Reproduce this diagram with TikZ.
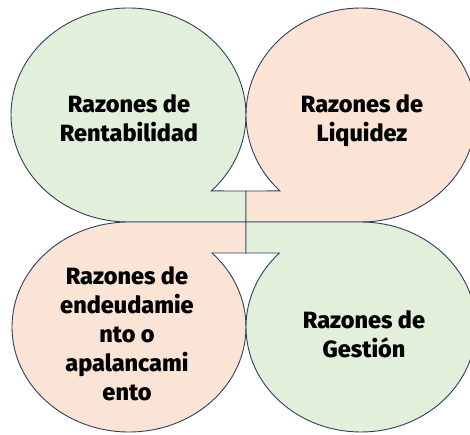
\documentclass[tikz,border=0pt]{standalone}
\usepackage{fontspec}
\setmainfont{Fira Sans}
\newfontfamily\heavyfont{Fira Sans ExtraBold}
\definecolor{qgreen}{HTML}{E2EFDA}
\definecolor{qorange}{HTML}{FBE4D5}
\definecolor{qline}{HTML}{2F3F60}
\begin{document}
\begin{tikzpicture}[x=1pt,y=1pt,
  quad/.style={draw=qline,line width=0.9pt,line join=miter},
  lbl/.style={align=center,anchor=north,font=\fontsize{23.5}{29}\selectfont\heavyfont,text=black,inner sep=0pt}]
\useasboundingbox (0,0) rectangle (470,434);
\clip (0,0) rectangle (470,434);
% top-left
\draw[quad,fill=qgreen] (246,212) -- (128.5,212)
  arc[x radius=117.5,y radius=107,start angle=-90,end angle=-405.2] -- (246,243) -- cycle;
% top-right
\draw[quad,fill=qorange] (246,212) -- (361,212)
  arc[x radius=115,y radius=107,start angle=-90,end angle=225.2] -- (246,243) -- cycle;
% bottom-left
\draw[quad,fill=qorange] (246,212) -- (129,212)
  arc[x radius=117,y radius=105,start angle=90,end angle=404.8] -- (246,181) -- cycle;
% bottom-right
\draw[quad,fill=qgreen] (246,212) -- (361,212)
  arc[x radius=115,y radius=105,start angle=90,end angle=-224.8] -- (246,181) -- cycle;
\node[lbl] (tl) at (129,340) {Razones de\\Rentabilidad};
\node[lbl] (tr) at (362,340) {Razones de\\Liquidez};
\node[lbl] (bl) at (127,168) {Razones de\\endeudamie\\nto o\\apalancami\\ento};
\node[lbl] (br) at (364,124) {Razones de\\Gestión};
\end{tikzpicture}
\end{document}
